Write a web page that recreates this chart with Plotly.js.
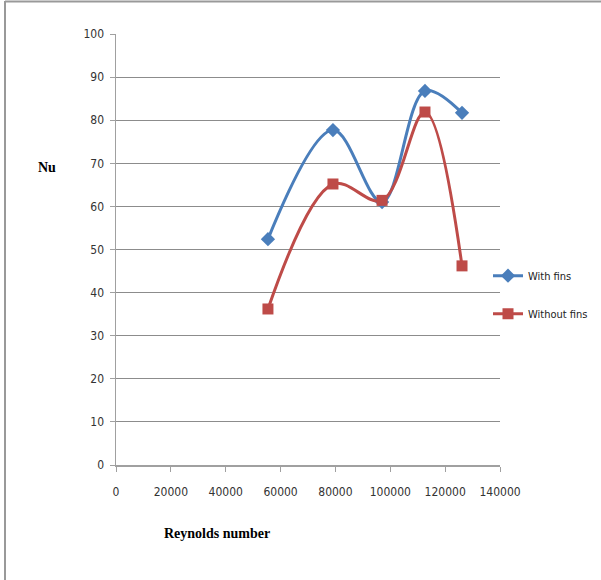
<!DOCTYPE html>
<html>
<head>
<meta charset="utf-8">
<script src="https://cdn.plot.ly/plotly-3.0.1.min.js"></script>
<style>html,body{margin:0;padding:0;background:#fff;}#chart{width:601px;height:580px;}</style>
</head>
<body>
<div id="chart"></div>
<script>
const reynolds = [55400, 79100, 97000, 112650, 126150];
const nuWithFins = [52.4, 77.7, 61.0, 86.8, 81.7];
const nuWithoutFins = [36.2, 65.2, 61.4, 81.9, 46.2];
const seriesNames = ["With fins", "Without fins"];
const yTicks = [0, 10, 20, 30, 40, 50, 60, 70, 80, 90, 100];
const xTicks = [0, 20000, 40000, 60000, 80000, 100000, 120000, 140000];

const narrow = "DejaVu Sans Condensed, Liberation Sans Narrow, Arial Narrow, sans-serif";
const tickFont = {family: narrow, size: 12, color: "#333"};
const titleFont = {family: "Liberation Serif, Times New Roman, serif", size: 14, color: "#000", weight: "bold"};

const traces = [
  {
    x: reynolds, y: nuWithFins, name: seriesNames[0], type: "scatter", mode: "lines+markers",
    line: {color: "#4A7EBB", width: 3, shape: "spline", smoothing: 1},
    marker: {symbol: "diamond", size: 11, color: "#4A7EBB"},
    legendgroup: "a"
  },
  {
    x: reynolds, y: nuWithoutFins, name: seriesNames[1], type: "scatter", mode: "lines+markers",
    line: {color: "#BE4B48", width: 3, shape: "spline", smoothing: 1},
    marker: {symbol: "square", size: 11, color: "#BE4B48"},
    legendgroup: "b"
  }
];

const layout = {
  width: 601, height: 580,
  margin: {l: 116, r: 101, t: 34, b: 115, autoexpand: false},
  paper_bgcolor: "#fff", plot_bgcolor: "#fff",
  showlegend: true,
  legend: {x: (488-116)/384, xanchor: "left", y: 0.473, yanchor: "top",
    font: {family: narrow, size: 11, color: "#222"},
    traceorder: "grouped", tracegroupgap: 19, itemwidth: 30, bgcolor: "rgba(0,0,0,0)"},
  xaxis: {
    range: [0, 140000], tickvals: xTicks, ticktext: xTicks.map(String),
    showgrid: false, zeroline: false, showline: true, linecolor: "#a0a0a0", linewidth: 1.5,
    ticks: "outside", ticklen: 5, tickcolor: "#a0a0a0", tickfont: tickFont,
    ticklabelstandoff: 10,
    fixedrange: true
  },
  yaxis: {
    range: [0, 100], tickvals: yTicks,
    showgrid: true, gridcolor: "#8c8c8c", gridwidth: 1,
    zeroline: false, showline: true, linecolor: "#a0a0a0", linewidth: 1.5,
    ticks: "outside", ticklen: 5, tickcolor: "#a0a0a0", tickfont: tickFont,
    ticklabelstandoff: 3,
    fixedrange: true
  },
  annotations: [
    {text: "Nu", xref: "paper", yref: "paper", x: (47-116)/384, y: (465-167)/431, showarrow: false,
     xanchor: "center", yanchor: "middle", font: titleFont},
    {text: "Reynolds number", xref: "paper", yref: "paper", x: (217-116)/384, y: (465-533)/431, showarrow: false,
     xanchor: "center", yanchor: "middle", font: titleFont}
  ],
  shapes: [
    {type: "line", xref: "paper", yref: "paper", x0: (5-116)/384, x1: (5-116)/384, y0: -0.27, y1: (465-1)/431, line: {color: "#999", width: 2}},
    {type: "line", xref: "paper", yref: "paper", x0: (5-116)/384, x1: 1.27, y0: (465-1.5)/431, y1: (465-1.5)/431, line: {color: "#999", width: 2}}
  ]
};

Plotly.newPlot("chart", traces, layout, {displayModeBar: false, staticPlot: true});
</script>
</body>
</html>
